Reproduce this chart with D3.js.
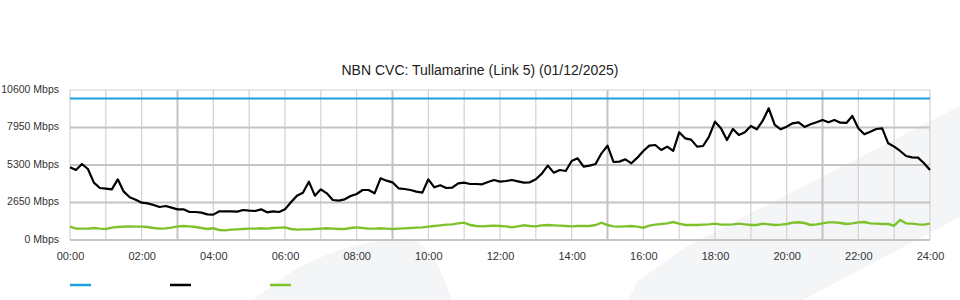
<!DOCTYPE html>
<html>
<head>
<meta charset="utf-8">
<script src="https://cdn.jsdelivr.net/npm/d3@7"></script>
<style>
  body { margin: 0; background: #fff; }
  svg { font-family: "Liberation Sans", Arial, sans-serif; }
</style>
</head>
<body>
<div id="chart"></div>
<script>
// 10 minute samples, 00:00 -> 24:00 (Mbps)
var stepMinutes = 10;
var traffic = [
5136,4948,5372,5018,4052,3675,3628,3581,4288,3416,
3016,2851,2639,2592,2474,2332,2403,2285,2168,2168,
1979,1979,1932,1814,1791,2026,2026,2026,2003,2120,
2073,2050,2168,1955,2026,1979,2168,2662,3133,3346,
4123,3133,3581,3298,2827,2780,2874,3110,3251,3534,
3534,3298,4359,4194,4076,3652,3605,3534,3416,3346,
4288,3722,3864,3675,3699,4005,4052,3958,3958,3935,
4099,4241,4123,4170,4241,4147,4052,4076,4288,4688,
5254,4759,4948,4877,5584,5772,5183,5254,5372,6126,
6667,5513,5537,5702,5419,5819,6291,6667,6715,6361,
6597,6291,7610,7186,7092,6597,6644,7304,8364,7893,
7068,7845,7421,7610,8058,7822,8434,9306,8128,7822,
8010,8246,8317,7987,8175,8317,8482,8317,8482,8293,
8270,8764,7893,7469,7657,7845,7893,6832,6597,6291,
5937,5843,5819,5419,4948
];
var upload = [
942,801,801,801,848,801,777,872,919,942,
966,942,942,919,848,801,825,872,966,990,
966,919,848,777,825,707,683,730,754,777,
801,801,825,801,848,872,895,777,730,754,
754,777,801,825,801,777,777,848,895,848,
801,801,825,801,777,801,825,848,872,895,
942,990,1037,1084,1107,1178,1225,1060,990,966,
990,1013,990,966,895,966,1037,990,966,1037,
1060,1037,1013,990,966,990,990,990,1060,1225,
1060,966,942,966,990,942,872,1013,1084,1131,
1178,1272,1154,1060,1060,1060,1084,1107,1154,1084,
1084,1107,1154,1107,1060,1060,1154,1107,1060,1084,
1131,1225,1249,1202,1060,1107,1178,1249,1249,1202,
1131,1178,1249,1272,1178,1154,1131,1131,1013,1414,
1178,1154,1107,1084,1154
];
var capacity = [10000, 10000];
var capacityMinutes = [0, 1440];
var yTicks = [0, 2650, 5300, 7950, 10600];
var xTickLabels = ["00:00","02:00","04:00","06:00","08:00","10:00","12:00",
                   "14:00","16:00","18:00","20:00","22:00","24:00"];
var title = "NBN CVC: Tullamarine (Link 5) (01/12/2025)";

var width = 960, height = 300;
var blue = "#1ba1e2", green = "#7dc12b";

var svg = d3.select("#chart")
    .append("svg")
    .attr("width", width)
    .attr("height", height);

// faint background shapes
var bg = svg.append("g").attr("fill", "#f4f5f7");
bg.append("path")
    .attr("d", d3.line().curve(d3.curveCatmullRom)([[253,300],[300,267],[350,247],[400,239],[414,240],[433,257],[452,300]]) + "Z");
bg.append("path")
    .attr("d", d3.line().curve(d3.curveLinearClosed)([[628,300],[638,281],[687,246],[960,106],[960,217],[803,300]]));

var x = d3.scaleLinear().domain([0, 1440]).range([70, 930]);
var y = d3.scaleLinear().domain([0, 10600]).range([240, 90]);

var grid = svg.append("g");
d3.range(0, 25).forEach(function(h) {
    var dark = h % 6 == 3;
    grid.append("line")
        .attr("x1", x(h * 60)).attr("x2", x(h * 60))
        .attr("y1", 90).attr("y2", 240)
        .attr("stroke", dark ? "#c2c2c2" : "#d2d2d2")
        .attr("stroke-width", dark ? 2 : 1.2);
});
yTicks.forEach(function(v) {
    grid.append("line")
        .attr("x1", 70).attr("x2", 930)
        .attr("y1", y(v)).attr("y2", y(v))
        .attr("stroke", v == 10600 ? "#d0d0d0" : "#c4c4c4")
        .attr("stroke-width", v == 10600 ? 1.2 : 2);
});

var yAxis = d3.axisLeft(y).tickValues(yTicks).tickSize(0).tickPadding(11)
    .tickFormat(function(d) { return d + " Mbps"; });
svg.append("g")
    .attr("transform", "translate(70,-1)")
    .call(yAxis)
    .call(function(g) { g.select(".domain").remove(); })
    .selectAll("text")
    .attr("font-size", 10.5)
    .attr("fill", "#333");

var xAxis = d3.axisBottom(x).tickValues(d3.range(0, 1441, 120)).tickSize(0).tickPadding(12)
    .tickFormat(function(d, i) { return xTickLabels[i]; });
svg.append("g")
    .attr("transform", "translate(0,240)")
    .call(xAxis)
    .call(function(g) { g.select(".domain").remove(); })
    .selectAll("text")
    .attr("font-size", 11)
    .attr("fill", "#333");

var line = d3.line()
    .x(function(d, i) { return x(i * stepMinutes); })
    .y(function(d) { return y(d); });

svg.append("path")
    .datum(capacity)
    .attr("fill", "none")
    .attr("stroke", blue)
    .attr("stroke-width", 2.2)
    .attr("d", d3.line()
        .x(function(d, i) { return x(capacityMinutes[i]); })
        .y(function(d) { return y(d); }));

svg.append("path")
    .datum(upload)
    .attr("fill", "none")
    .attr("stroke", green)
    .attr("stroke-width", 2.4)
    .attr("d", line);

svg.append("path")
    .datum(traffic)
    .attr("fill", "none")
    .attr("stroke", "#000")
    .attr("stroke-width", 2.2)
    .attr("stroke-linejoin", "round")
    .attr("d", line);

svg.append("text")
    .attr("x", width / 2)
    .attr("y", 75)
    .attr("text-anchor", "middle")
    .attr("font-size", 14)
    .attr("fill", "#222")
    .text(title);

// legend (swatches only)
[blue, "#000", green].forEach(function(c, i) {
    svg.append("line")
        .attr("x1", 70 + i * 100).attr("x2", 91 + i * 100)
        .attr("y1", 285).attr("y2", 285)
        .attr("stroke", c)
        .attr("stroke-width", 2.5);
});
</script>
</body>
</html>
